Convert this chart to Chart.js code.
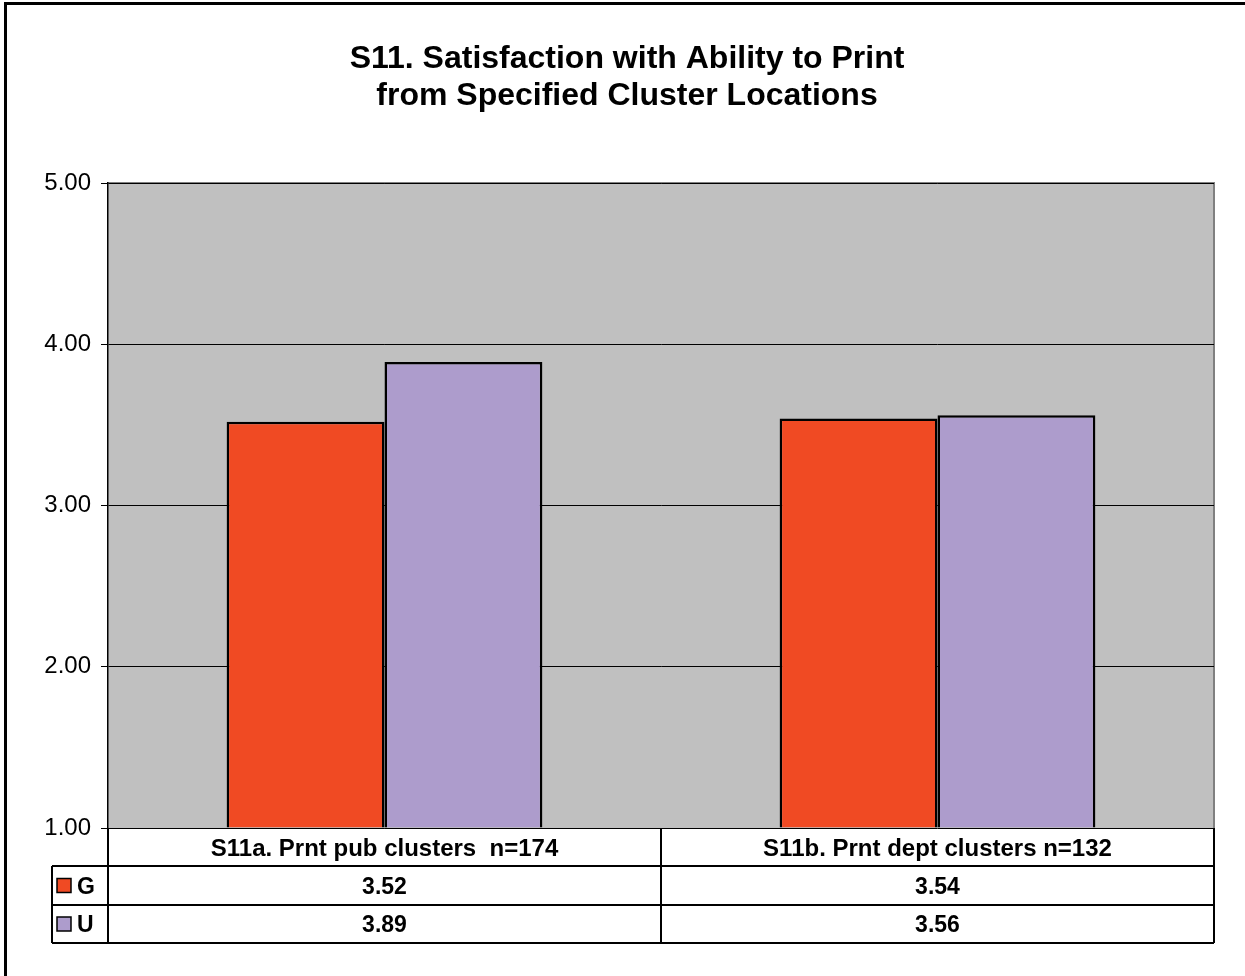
<!DOCTYPE html>
<html>
<head>
<meta charset="utf-8">
<script src="https://cdn.jsdelivr.net/npm/chart.js@4/dist/chart.umd.min.js"></script>
<style>
  body { margin: 0; background: #fff; }
  #wrap { width: 1245px; height: 976px; }
</style>
</head>
<body>
<div id="wrap"><canvas id="grafico" width="1245" height="976"></canvas></div>
<script>
const titulo = ['S11. Satisfaction with Ability to Print', 'from Specified Cluster Locations'];
const categorias = ['S11a. Prnt pub clusters  n=174', 'S11b. Prnt dept clusters n=132'];
const serieG = [3.52, 3.54];
const serieU = [3.89, 3.56];
const ticks = [1, 2, 3, 4, 5];

const FONTE = '"Liberation Sans", Arial, sans-serif';

// fundo cinza da area do grafico, moldura e titulo
const fundo = {
  id: 'fundo',
  beforeDraw(chart) {
    const { ctx, chartArea: a } = chart;
    ctx.save();
    ctx.fillStyle = '#fff';
    ctx.fillRect(0, 0, chart.width, chart.height);
    ctx.fillStyle = '#C0C0C0';
    ctx.fillRect(a.left, a.top, a.right - a.left, a.bottom - a.top);
    // borda da area (cinza escuro em cima e a direita)
    ctx.strokeStyle = '#808080';
    ctx.lineWidth = 2;
    ctx.beginPath();
    ctx.moveTo(a.left, a.top);
    ctx.lineTo(a.right, a.top);
    ctx.lineTo(a.right, a.bottom);
    ctx.stroke();
    // moldura externa
    ctx.strokeStyle = '#000';
    ctx.lineWidth = 3;
    ctx.strokeRect(5.5, 3.5, chart.width + 20, chart.height + 20);
    // titulo
    ctx.fillStyle = '#000';
    ctx.font = 'bold 32px ' + FONTE;
    ctx.textAlign = 'center';
    ctx.textBaseline = 'middle';
    ctx.fillText(titulo[0], 627, 59);
    ctx.fillText(titulo[1], 627, 96);
    ctx.restore();
  }
};

// tabela de dados embaixo do grafico
const tabela = {
  id: 'tabela',
  afterDraw(chart) {
    const { ctx, chartArea: a, scales } = chart;
    const x = scales.x;
    const linhas = [a.bottom, a.bottom + 38, a.bottom + 77, a.bottom + 115];
    const esq = 52;
    const meio = (x.getPixelForValue(0) + x.getPixelForValue(1)) / 2;
    const cols = [a.left, meio, a.right];
    ctx.save();
    ctx.strokeStyle = '#000';
    ctx.lineWidth = 2;
    ctx.beginPath();
    // horizontais
    for (let i = 1; i < linhas.length; i++) {
      ctx.moveTo(esq, linhas[i]);
      ctx.lineTo(a.right, linhas[i]);
    }
    // verticais
    cols.forEach(c => {
      ctx.moveTo(c, linhas[0]);
      ctx.lineTo(c, linhas[3]);
    });
    ctx.moveTo(esq, linhas[1]);
    ctx.lineTo(esq, linhas[3]);
    ctx.stroke();

    ctx.fillStyle = '#000';
    ctx.textAlign = 'center';
    ctx.textBaseline = 'middle';
    categorias.forEach((c, i) => {
      const cx = x.getPixelForValue(i);
      ctx.font = 'bold 24px ' + FONTE;
      ctx.fillText(c, cx, (linhas[0] + linhas[1]) / 2 + 2);
      ctx.font = 'bold 23px ' + FONTE;
      ctx.fillText(serieG[i].toFixed(2), cx, (linhas[1] + linhas[2]) / 2 + 2);
      ctx.fillText(serieU[i].toFixed(2), cx, (linhas[2] + linhas[3]) / 2 + 2);
    });

    // legenda
    chart.data.datasets.forEach((ds, i) => {
      const cy = (linhas[i + 1] + linhas[i + 2]) / 2;
      ctx.fillStyle = ds.backgroundColor;
      ctx.fillRect(57, cy - 7, 14, 14);
      ctx.lineWidth = 1.5;
      ctx.strokeRect(57, cy - 7, 14, 14);
      ctx.fillStyle = '#000';
      ctx.textAlign = 'left';
      ctx.font = 'bold 23px ' + FONTE;
      ctx.fillText(ds.label, 77, cy + 2);
    });
    ctx.restore();
  }
};

const ctx = document.getElementById('grafico').getContext('2d');
const grafico = new Chart(ctx, {
  type: 'bar',
  data: {
    labels: categorias,
    datasets: [{
      label: 'G',
      data: serieG,
      base: 1,
      backgroundColor: '#F04A23',
      borderColor: '#000',
      borderWidth: 2.5,
      borderSkipped: 'bottom'
    }, {
      label: 'U',
      data: serieU,
      base: 1,
      backgroundColor: '#AD9CCC',
      borderColor: '#000',
      borderWidth: 2.5,
      borderSkipped: 'bottom'
    }]
  },
  plugins: [fundo, tabela],
  options: {
    responsive: false,
    animation: false,
    layout: { padding: { left: 0, top: 183, right: 31, bottom: 148 } },
    datasets: { bar: { categoryPercentage: 0.571, barPercentage: 1 } },
    plugins: {
      legend: { display: false },
      title: { display: false },
      tooltip: { enabled: false }
    },
    scales: {
      x: { display: false },
      y: {
        min: 1,
        max: 5,
        afterFit(scale) { scale.width = 108; },
        afterBuildTicks(scale) { scale.ticks = ticks.map(v => ({ value: v })); },
        ticks: {
          color: '#000',
          font: { family: FONTE, size: 24 },
          padding: 10,
          callback: v => v.toFixed(2)
        },
        grid: {
          color: '#000',
          lineWidth: 1,
          tickLength: 7,
          drawOnChartArea: true
        },
        border: { color: '#000', width: 1.5 }
      }
    }
  }
});
</script>
</body>
</html>
